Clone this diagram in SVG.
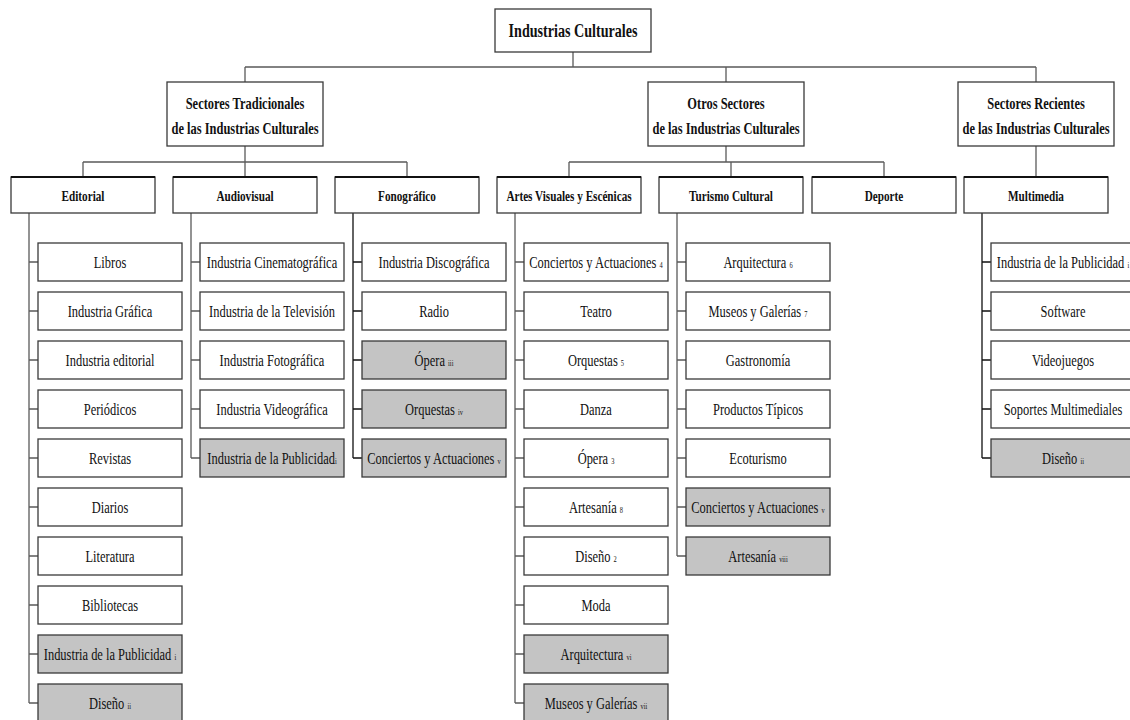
<svg xmlns="http://www.w3.org/2000/svg" width="1130" height="720" viewBox="0 0 1130 720">
<style>
.box{fill:#fff;stroke:#3a3a3a;stroke-width:1.3}
.grey{fill:#c4c4c4}
.topline{stroke:#111;stroke-width:2.2}
.t{font-family:"Liberation Serif","Times New Roman",serif;font-size:16.5px;fill:#111;text-anchor:middle}
.h1{font-size:19px;font-weight:bold}
.h2{font-size:16.5px;font-weight:bold}
.h3{font-size:15px;font-weight:bold}
.sub{font-size:8.5px}
.conn path{fill:none;stroke:#5a5a5a;stroke-width:1.3}
.conn path.dark{stroke:#111}
</style>
<rect width="1130" height="720" fill="#fff"/>
<g class="conn" id="connectors">
<path d="M573 52 V67 M245 67 H1036 M245 67 V82 M726 67 V82 M1036 67 V82"/>
<path d="M245 146 V162 M83 162 H407 M83 162 V177 M245 162 V177 M407 162 V177"/>
<path d="M726 146 V162 M569 162 H884 M569 162 V177 M731 162 V177 M884 162 V177"/>
<path d="M1036 146 V177"/>
<path d="M29 213 V703 M29 262 H38 M29 311 H38 M29 360 H38 M29 409 H38 M29 458 H38 M29 507 H38 M29 556 H38 M29 605 H38 M29 654 H38 M29 703 H38"/>
<path d="M191 213 V458 M191 262 H200 M191 311 H200 M191 360 H200 M191 409 H200 M191 458 H200"/>
<path class="dark" d="M353 213 V458 M353 262 H362 M353 311 H362 M353 360 H362 M353 409 H362 M353 458 H362"/>
<path d="M515 213 V703 M515 262 H524 M515 311 H524 M515 360 H524 M515 409 H524 M515 458 H524 M515 507 H524 M515 556 H524 M515 605 H524 M515 654 H524 M515 703 H524"/>
<path d="M677 213 V556 M677 262 H686 M677 311 H686 M677 360 H686 M677 409 H686 M677 458 H686 M677 507 H686 M677 556 H686"/>
<path class="dark" d="M982 213 V458 M982 262 H991 M982 311 H991 M982 360 H991 M982 409 H991 M982 458 H991"/>
</g>

<g id="n-root"><rect class="box" x="495" y="9" width="156" height="43"/><text class="t h1" transform="translate(573 37) scale(0.743 1)">Industrias Culturales</text></g>

<g id="n-tradicionales"><rect class="box" x="167" y="82" width="156" height="64"/><text class="t h2" transform="translate(245 109) scale(0.755 1)">Sectores Tradicionales</text><text class="t h2" transform="translate(245 134) scale(0.755 1)">de las Industrias Culturales</text></g>
<g id="n-otros"><rect class="box" x="648" y="82" width="156" height="64"/><text class="t h2" transform="translate(726 109) scale(0.755 1)">Otros Sectores</text><text class="t h2" transform="translate(726 134) scale(0.755 1)">de las Industrias Culturales</text></g>
<g id="n-recientes"><rect class="box" x="958" y="82" width="156" height="64"/><text class="t h2" transform="translate(1036 109) scale(0.755 1)">Sectores Recientes</text><text class="t h2" transform="translate(1036 134) scale(0.755 1)">de las Industrias Culturales</text></g>

<g id="n-editorial"><rect class="box" x="11" y="177" width="144" height="36"/><line class="topline" x1="11" y1="177" x2="155" y2="177"/><text class="t h3" transform="translate(83 201) scale(0.747 1)">Editorial</text></g>
<g id="n-audiovisual"><rect class="box" x="173" y="177" width="144" height="36"/><line class="topline" x1="173" y1="177" x2="317" y2="177"/><text class="t h3" transform="translate(245 201) scale(0.747 1)">Audiovisual</text></g>
<g id="n-fonografico"><rect class="box" x="335" y="177" width="144" height="36"/><line class="topline" x1="335" y1="177" x2="479" y2="177"/><text class="t h3" transform="translate(407 201) scale(0.747 1)">Fonográfico</text></g>
<g id="n-artes"><rect class="box" x="497" y="177" width="144" height="36"/><line class="topline" x1="497" y1="177" x2="641" y2="177"/><text class="t h3" transform="translate(569 201) scale(0.747 1)">Artes Visuales y Escénicas</text></g>
<g id="n-turismo"><rect class="box" x="659" y="177" width="144" height="36"/><line class="topline" x1="659" y1="177" x2="803" y2="177"/><text class="t h3" transform="translate(731 201) scale(0.747 1)">Turismo Cultural</text></g>
<g id="n-deporte"><rect class="box" x="812" y="177" width="144" height="36"/><line class="topline" x1="812" y1="177" x2="956" y2="177"/><text class="t h3" transform="translate(884 201) scale(0.747 1)">Deporte</text></g>
<g id="n-multimedia"><rect class="box" x="964" y="177" width="144" height="36"/><line class="topline" x1="964" y1="177" x2="1108" y2="177"/><text class="t h3" transform="translate(1036 201) scale(0.747 1)">Multimedia</text></g>

<g id="n-ed-libros"><rect class="box" x="38" y="243" width="144" height="38"/><text class="t" transform="translate(110 268) scale(0.755 1)">Libros</text></g>
<g id="n-ed-grafica"><rect class="box" x="38" y="292" width="144" height="38"/><text class="t" transform="translate(110 317) scale(0.755 1)">Industria Gráfica</text></g>
<g id="n-ed-editorial"><rect class="box" x="38" y="341" width="144" height="38"/><text class="t" transform="translate(110 366) scale(0.755 1)">Industria editorial</text></g>
<g id="n-ed-periodicos"><rect class="box" x="38" y="390" width="144" height="38"/><text class="t" transform="translate(110 415) scale(0.755 1)">Periódicos</text></g>
<g id="n-ed-revistas"><rect class="box" x="38" y="439" width="144" height="38"/><text class="t" transform="translate(110 464) scale(0.755 1)">Revistas</text></g>
<g id="n-ed-diarios"><rect class="box" x="38" y="488" width="144" height="38"/><text class="t" transform="translate(110 513) scale(0.755 1)">Diarios</text></g>
<g id="n-ed-literatura"><rect class="box" x="38" y="537" width="144" height="38"/><text class="t" transform="translate(110 562) scale(0.755 1)">Literatura</text></g>
<g id="n-ed-bibliotecas"><rect class="box" x="38" y="586" width="144" height="38"/><text class="t" transform="translate(110 611) scale(0.755 1)">Bibliotecas</text></g>
<g id="n-ed-publicidad"><rect class="box grey" x="38" y="635" width="144" height="38"/><text class="t" transform="translate(110 660) scale(0.755 1)">Industria de la Publicidad <tspan class="sub">i</tspan></text></g>
<g id="n-ed-diseno"><rect class="box grey" x="38" y="684" width="144" height="38"/><text class="t" transform="translate(110 709) scale(0.755 1)">Diseño <tspan class="sub">ii</tspan></text></g>

<g id="n-av-cine"><rect class="box" x="200" y="243" width="144" height="38"/><text class="t" transform="translate(272 268) scale(0.755 1)">Industria Cinematográfica</text></g>
<g id="n-av-tv"><rect class="box" x="200" y="292" width="144" height="38"/><text class="t" transform="translate(272 317) scale(0.755 1)">Industria de la Televisión</text></g>
<g id="n-av-foto"><rect class="box" x="200" y="341" width="144" height="38"/><text class="t" transform="translate(272 366) scale(0.755 1)">Industria Fotográfica</text></g>
<g id="n-av-video"><rect class="box" x="200" y="390" width="144" height="38"/><text class="t" transform="translate(272 415) scale(0.755 1)">Industria Videográfica</text></g>
<g id="n-av-publicidad"><rect class="box grey" x="200" y="439" width="144" height="38"/><text class="t" transform="translate(272 464) scale(0.755 1)">Industria de la Publicidad<tspan class="sub">i</tspan></text></g>

<g id="n-fo-disco"><rect class="box" x="362" y="243" width="144" height="38"/><text class="t" transform="translate(434 268) scale(0.755 1)">Industria Discográfica</text></g>
<g id="n-fo-radio"><rect class="box" x="362" y="292" width="144" height="38"/><text class="t" transform="translate(434 317) scale(0.755 1)">Radio</text></g>
<g id="n-fo-opera"><rect class="box grey" x="362" y="341" width="144" height="38"/><text class="t" transform="translate(434 366) scale(0.755 1)">Ópera <tspan class="sub">iii</tspan></text></g>
<g id="n-fo-orquestas"><rect class="box grey" x="362" y="390" width="144" height="38"/><text class="t" transform="translate(434 415) scale(0.755 1)">Orquestas <tspan class="sub">iv</tspan></text></g>
<g id="n-fo-conciertos"><rect class="box grey" x="362" y="439" width="144" height="38"/><text class="t" transform="translate(434 464) scale(0.755 1)">Conciertos y Actuaciones <tspan class="sub">v</tspan></text></g>

<g id="n-ar-conciertos"><rect class="box" x="524" y="243" width="144" height="38"/><text class="t" transform="translate(596 268) scale(0.755 1)">Conciertos y Actuaciones <tspan class="sub">4</tspan></text></g>
<g id="n-ar-teatro"><rect class="box" x="524" y="292" width="144" height="38"/><text class="t" transform="translate(596 317) scale(0.755 1)">Teatro</text></g>
<g id="n-ar-orquestas"><rect class="box" x="524" y="341" width="144" height="38"/><text class="t" transform="translate(596 366) scale(0.755 1)">Orquestas <tspan class="sub">5</tspan></text></g>
<g id="n-ar-danza"><rect class="box" x="524" y="390" width="144" height="38"/><text class="t" transform="translate(596 415) scale(0.755 1)">Danza</text></g>
<g id="n-ar-opera"><rect class="box" x="524" y="439" width="144" height="38"/><text class="t" transform="translate(596 464) scale(0.755 1)">Ópera <tspan class="sub">3</tspan></text></g>
<g id="n-ar-artesania"><rect class="box" x="524" y="488" width="144" height="38"/><text class="t" transform="translate(596 513) scale(0.755 1)">Artesanía <tspan class="sub">8</tspan></text></g>
<g id="n-ar-diseno"><rect class="box" x="524" y="537" width="144" height="38"/><text class="t" transform="translate(596 562) scale(0.755 1)">Diseño <tspan class="sub">2</tspan></text></g>
<g id="n-ar-moda"><rect class="box" x="524" y="586" width="144" height="38"/><text class="t" transform="translate(596 611) scale(0.755 1)">Moda</text></g>
<g id="n-ar-arquitectura"><rect class="box grey" x="524" y="635" width="144" height="38"/><text class="t" transform="translate(596 660) scale(0.755 1)">Arquitectura <tspan class="sub">vi</tspan></text></g>
<g id="n-ar-museos"><rect class="box grey" x="524" y="684" width="144" height="38"/><text class="t" transform="translate(596 709) scale(0.755 1)">Museos y Galerías <tspan class="sub">vii</tspan></text></g>

<g id="n-tu-arquitectura"><rect class="box" x="686" y="243" width="144" height="38"/><text class="t" transform="translate(758 268) scale(0.755 1)">Arquitectura <tspan class="sub">6</tspan></text></g>
<g id="n-tu-museos"><rect class="box" x="686" y="292" width="144" height="38"/><text class="t" transform="translate(758 317) scale(0.755 1)">Museos y Galerías <tspan class="sub">7</tspan></text></g>
<g id="n-tu-gastronomia"><rect class="box" x="686" y="341" width="144" height="38"/><text class="t" transform="translate(758 366) scale(0.755 1)">Gastronomía</text></g>
<g id="n-tu-productos"><rect class="box" x="686" y="390" width="144" height="38"/><text class="t" transform="translate(758 415) scale(0.755 1)">Productos Típicos</text></g>
<g id="n-tu-ecoturismo"><rect class="box" x="686" y="439" width="144" height="38"/><text class="t" transform="translate(758 464) scale(0.755 1)">Ecoturismo</text></g>
<g id="n-tu-conciertos"><rect class="box grey" x="686" y="488" width="144" height="38"/><text class="t" transform="translate(758 513) scale(0.755 1)">Conciertos y Actuaciones <tspan class="sub">v</tspan></text></g>
<g id="n-tu-artesania"><rect class="box grey" x="686" y="537" width="144" height="38"/><text class="t" transform="translate(758 562) scale(0.755 1)">Artesanía <tspan class="sub">viii</tspan></text></g>

<g id="n-mm-publicidad"><rect class="box" x="991" y="243" width="144" height="38"/><text class="t" transform="translate(1063 268) scale(0.755 1)">Industria de la Publicidad <tspan class="sub">i</tspan></text></g>
<g id="n-mm-software"><rect class="box" x="991" y="292" width="144" height="38"/><text class="t" transform="translate(1063 317) scale(0.755 1)">Software</text></g>
<g id="n-mm-videojuegos"><rect class="box" x="991" y="341" width="144" height="38"/><text class="t" transform="translate(1063 366) scale(0.755 1)">Videojuegos</text></g>
<g id="n-mm-soportes"><rect class="box" x="991" y="390" width="144" height="38"/><text class="t" transform="translate(1063 415) scale(0.755 1)">Soportes Multimediales</text></g>
<g id="n-mm-diseno"><rect class="box grey" x="991" y="439" width="144" height="38"/><text class="t" transform="translate(1063 464) scale(0.755 1)">Diseño <tspan class="sub">ii</tspan></text></g>
</svg>
